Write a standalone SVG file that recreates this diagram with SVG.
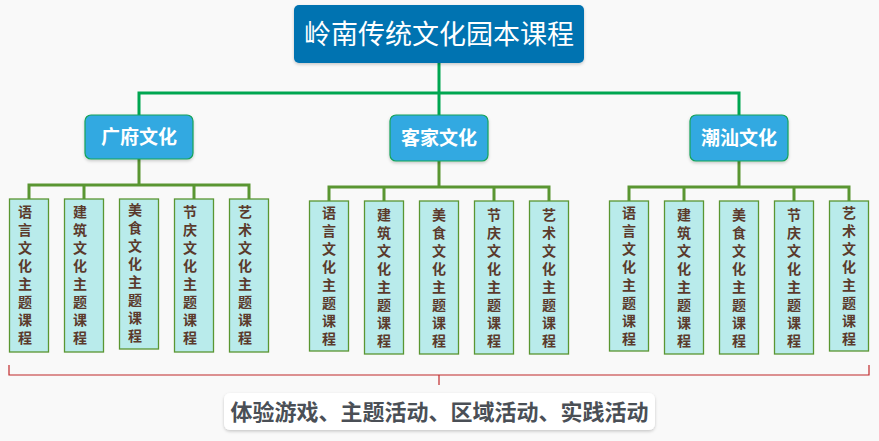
<svg xmlns="http://www.w3.org/2000/svg" width="879" height="441" viewBox="0 0 879 441">
<defs>
<filter id="sh" x="-10%" y="-20%" width="120%" height="150%"><feDropShadow dx="0" dy="1.5" stdDeviation="1.5" flood-color="#000" flood-opacity="0.2"/></filter>
<style>
text{font-family:"Noto Sans CJK SC","Noto Sans",sans-serif;}
.root rect{fill:#0273B1;}
.root text{fill:#fff;font-size:27px;}
.cat rect{fill:#33A9E1;stroke:#14A35A;stroke-width:1.2;}
.cat text{fill:#fff;font-size:19px;font-weight:bold;}
.leaf rect{fill:#B9EBEB;stroke:#5A9632;stroke-width:1.3;}
.leaf text{fill:#5B3A2C;font-size:14px;font-weight:bold;writing-mode:vertical-rl;letter-spacing:4px;}
.g1{fill:none;stroke:#00A651;stroke-width:3;}
.g2{fill:none;stroke:#5A9632;stroke-width:3;}
.br{fill:none;stroke:#C0282A;stroke-width:1.2;}
.lab rect{fill:#fff;}
.lab text{fill:#4A4F56;font-size:22px;font-weight:bold;}
</style>
</defs>
<rect width="879" height="441" fill="#F9F9F9"/>
<g id="connectors">
<path class="g1" d="M439 63V93M139 115V93H739V115M439 93V115"/>
<path class="g2" d="M139 159V185M29 199V185H249V199M84 185V199M194 185V199"/>
<path class="g2" d="M439 161V187M329 201V187H549V201M384 187V201M494 187V201"/>
<path class="g2" d="M739 161V187M629 201V187H849V201M684 187V201M794 187V201"/>
<path class="br" d="M9 365V375H869V365M439 375V385"/>
</g>
<g id="root" class="root"><rect x="294" y="5" width="290" height="58" rx="5" filter="url(#sh)"/><text x="439" y="44" text-anchor="middle">岭南传统文化园本课程</text></g>
<g id="cat1" class="cat"><rect x="85" y="115" width="108" height="44" rx="6" filter="url(#sh)"/><text x="139" y="144" text-anchor="middle">广府文化</text></g>
<g id="cat2" class="cat"><rect x="390" y="115" width="98" height="46" rx="6" filter="url(#sh)"/><text x="439" y="145" text-anchor="middle">客家文化</text></g>
<g id="cat3" class="cat"><rect x="690" y="115" width="98" height="46" rx="6" filter="url(#sh)"/><text x="739" y="145" text-anchor="middle">潮汕文化</text></g>
<g id="l1a" class="leaf"><rect x="9.5" y="199" width="39" height="153"/><text x="25" y="205">语言文化主题课程</text></g>
<g id="l1b" class="leaf"><rect x="64.5" y="199" width="39" height="153"/><text x="80" y="205">建筑文化主题课程</text></g>
<g id="l1c" class="leaf"><rect x="119.5" y="199" width="39" height="150"/><text x="135" y="203">美食文化主题课程</text></g>
<g id="l1d" class="leaf"><rect x="174.5" y="199" width="39" height="153"/><text x="190" y="205">节庆文化主题课程</text></g>
<g id="l1e" class="leaf"><rect x="229.5" y="199" width="39" height="153"/><text x="245" y="205">艺术文化主题课程</text></g>
<g id="l2a" class="leaf"><rect x="309.5" y="201" width="39" height="150"/><text x="329" y="206">语言文化主题课程</text></g>
<g id="l2b" class="leaf"><rect x="364.5" y="201" width="39" height="153"/><text x="384" y="208">建筑文化主题课程</text></g>
<g id="l2c" class="leaf"><rect x="419.5" y="201" width="39" height="153"/><text x="439" y="208">美食文化主题课程</text></g>
<g id="l2d" class="leaf"><rect x="474.5" y="201" width="39" height="153"/><text x="494" y="208">节庆文化主题课程</text></g>
<g id="l2e" class="leaf"><rect x="529.5" y="201" width="39" height="153"/><text x="549" y="208">艺术文化主题课程</text></g>
<g id="l3a" class="leaf"><rect x="609.5" y="201" width="39" height="150"/><text x="629" y="206">语言文化主题课程</text></g>
<g id="l3b" class="leaf"><rect x="664.5" y="201" width="39" height="153"/><text x="684" y="208">建筑文化主题课程</text></g>
<g id="l3c" class="leaf"><rect x="719.5" y="201" width="39" height="153"/><text x="739" y="208">美食文化主题课程</text></g>
<g id="l3d" class="leaf"><rect x="774.5" y="201" width="39" height="153"/><text x="794" y="208">节庆文化主题课程</text></g>
<g id="l3e" class="leaf"><rect x="829.5" y="201" width="39" height="150"/><text x="849" y="206">艺术文化主题课程</text></g>
<g id="label" class="lab"><rect x="224" y="393" width="431" height="37" rx="6" filter="url(#sh)"/><text x="439.5" y="419.5" text-anchor="middle">体验游戏、主题活动、区域活动、实践活动</text></g>
</svg>
